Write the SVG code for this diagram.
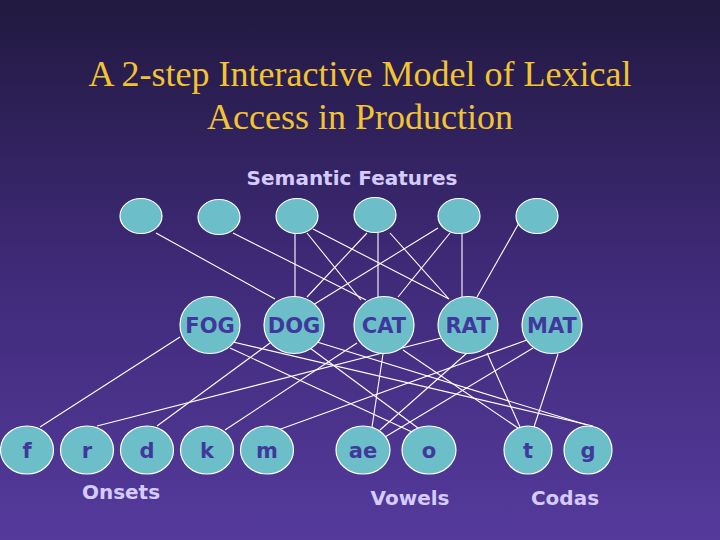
<svg xmlns="http://www.w3.org/2000/svg" width="720" height="540" viewBox="0 0 720 540">
<defs>
<linearGradient id="bg" x1="0" y1="0" x2="0" y2="1">
<stop offset="0" stop-color="#211940"/>
<stop offset="0.5" stop-color="#3f2a78"/>
<stop offset="1" stop-color="#553a9c"/>
</linearGradient>
<style>
.n{fill:#6cbfc8;stroke:#ffffff;stroke-width:1.2}
.t{font-family:"DejaVu Sans",Verdana,sans-serif;font-weight:bold;font-size:21px;fill:#40389c;text-anchor:middle}
.lab{font-family:"DejaVu Sans",Verdana,sans-serif;font-weight:bold;font-size:20px;fill:#d4ccff;text-anchor:middle}
.title{font-family:"Liberation Serif","Times New Roman",serif;font-size:36px;fill:#f2c431;text-anchor:middle}
#connectors line{stroke:#ffffff;stroke-width:1.1}
</style>
</defs>
<rect width="720" height="540" fill="url(#bg)"/>
<text class="title" x="360" y="86">A 2-step Interactive Model of Lexical</text>
<text class="title" x="360" y="129">Access in Production</text>
<text class="lab" x="352" y="185">Semantic Features</text>
<text class="lab" x="121" y="499">Onsets</text>
<text class="lab" x="410" y="505">Vowels</text>
<text class="lab" x="565" y="505">Codas</text>
<g id="connectors">
<line x1="156" y1="233" x2="275" y2="299"/>
<line x1="233" y1="233" x2="366" y2="300"/>
<line x1="295" y1="234" x2="295" y2="297"/>
<line x1="307" y1="233" x2="361" y2="300"/>
<line x1="313" y1="229" x2="449" y2="299"/>
<line x1="367" y1="233" x2="307" y2="297"/>
<line x1="378" y1="233" x2="378" y2="297"/>
<line x1="390" y1="233" x2="449" y2="299"/>
<line x1="438" y1="228" x2="313" y2="305"/>
<line x1="450" y1="233" x2="398" y2="297"/>
<line x1="462" y1="233" x2="462" y2="297"/>
<line x1="519" y1="223" x2="477" y2="297"/>
<line x1="180" y1="337" x2="40" y2="427"/>
<line x1="233" y1="342" x2="593" y2="426"/>
<line x1="230" y1="348" x2="412" y2="432"/>
<line x1="270" y1="343" x2="157" y2="426"/>
<line x1="310" y1="348" x2="418" y2="428"/>
<line x1="317" y1="342" x2="587" y2="425"/>
<line x1="357" y1="343" x2="225" y2="430"/>
<line x1="383" y1="354" x2="372" y2="427"/>
<line x1="403" y1="350" x2="518" y2="428"/>
<line x1="441" y1="338" x2="97" y2="426"/>
<line x1="467" y1="353" x2="380" y2="430"/>
<line x1="487" y1="353" x2="520" y2="427"/>
<line x1="527" y1="340" x2="278" y2="430"/>
<line x1="533" y1="348" x2="385" y2="437"/>
<line x1="558" y1="354" x2="534" y2="427"/>
</g>
<g id="sem1"><ellipse class="n" cx="141" cy="216" rx="21" ry="17.5"/></g>
<g id="sem2"><ellipse class="n" cx="219" cy="217" rx="21" ry="17.5"/></g>
<g id="sem3"><ellipse class="n" cx="297" cy="216" rx="21" ry="17.5"/></g>
<g id="sem4"><ellipse class="n" cx="375" cy="215" rx="21" ry="17.5"/></g>
<g id="sem5"><ellipse class="n" cx="459" cy="216" rx="21" ry="17.5"/></g>
<g id="sem6"><ellipse class="n" cx="537" cy="216" rx="21" ry="17.5"/></g>
<g id="fog"><ellipse class="n" cx="210" cy="325" rx="30" ry="28.5"/><text class="t" x="210" y="333">FOG</text></g>
<g id="dog"><ellipse class="n" cx="294" cy="325" rx="30" ry="28.5"/><text class="t" x="294" y="333">DOG</text></g>
<g id="cat"><ellipse class="n" cx="384" cy="325" rx="30" ry="28.5"/><text class="t" x="384" y="333">CAT</text></g>
<g id="rat"><ellipse class="n" cx="468" cy="325" rx="30" ry="28.5"/><text class="t" x="468" y="333">RAT</text></g>
<g id="mat"><ellipse class="n" cx="552" cy="325" rx="30" ry="28.5"/><text class="t" x="552" y="333">MAT</text></g>
<g id="f"><ellipse class="n" cx="27" cy="450" rx="26.5" ry="24"/><text class="t" x="27" y="458">f</text></g>
<g id="r"><ellipse class="n" cx="87" cy="450" rx="26.5" ry="24"/><text class="t" x="87" y="458">r</text></g>
<g id="d"><ellipse class="n" cx="147" cy="450" rx="26.5" ry="24"/><text class="t" x="147" y="458">d</text></g>
<g id="k"><ellipse class="n" cx="207" cy="450" rx="26.5" ry="24"/><text class="t" x="207" y="458">k</text></g>
<g id="m"><ellipse class="n" cx="267" cy="450" rx="26.5" ry="24"/><text class="t" x="267" y="458">m</text></g>
<g id="ae"><ellipse class="n" cx="363" cy="450" rx="27" ry="24"/><text class="t" x="363" y="458">ae</text></g>
<g id="o"><ellipse class="n" cx="429" cy="450" rx="27" ry="24"/><text class="t" x="429" y="458">o</text></g>
<g id="t"><ellipse class="n" cx="528" cy="450" rx="24" ry="24"/><text class="t" x="528" y="458">t</text></g>
<g id="g"><ellipse class="n" cx="588" cy="450" rx="24" ry="24"/><text class="t" x="588" y="458">g</text></g>
</svg>
